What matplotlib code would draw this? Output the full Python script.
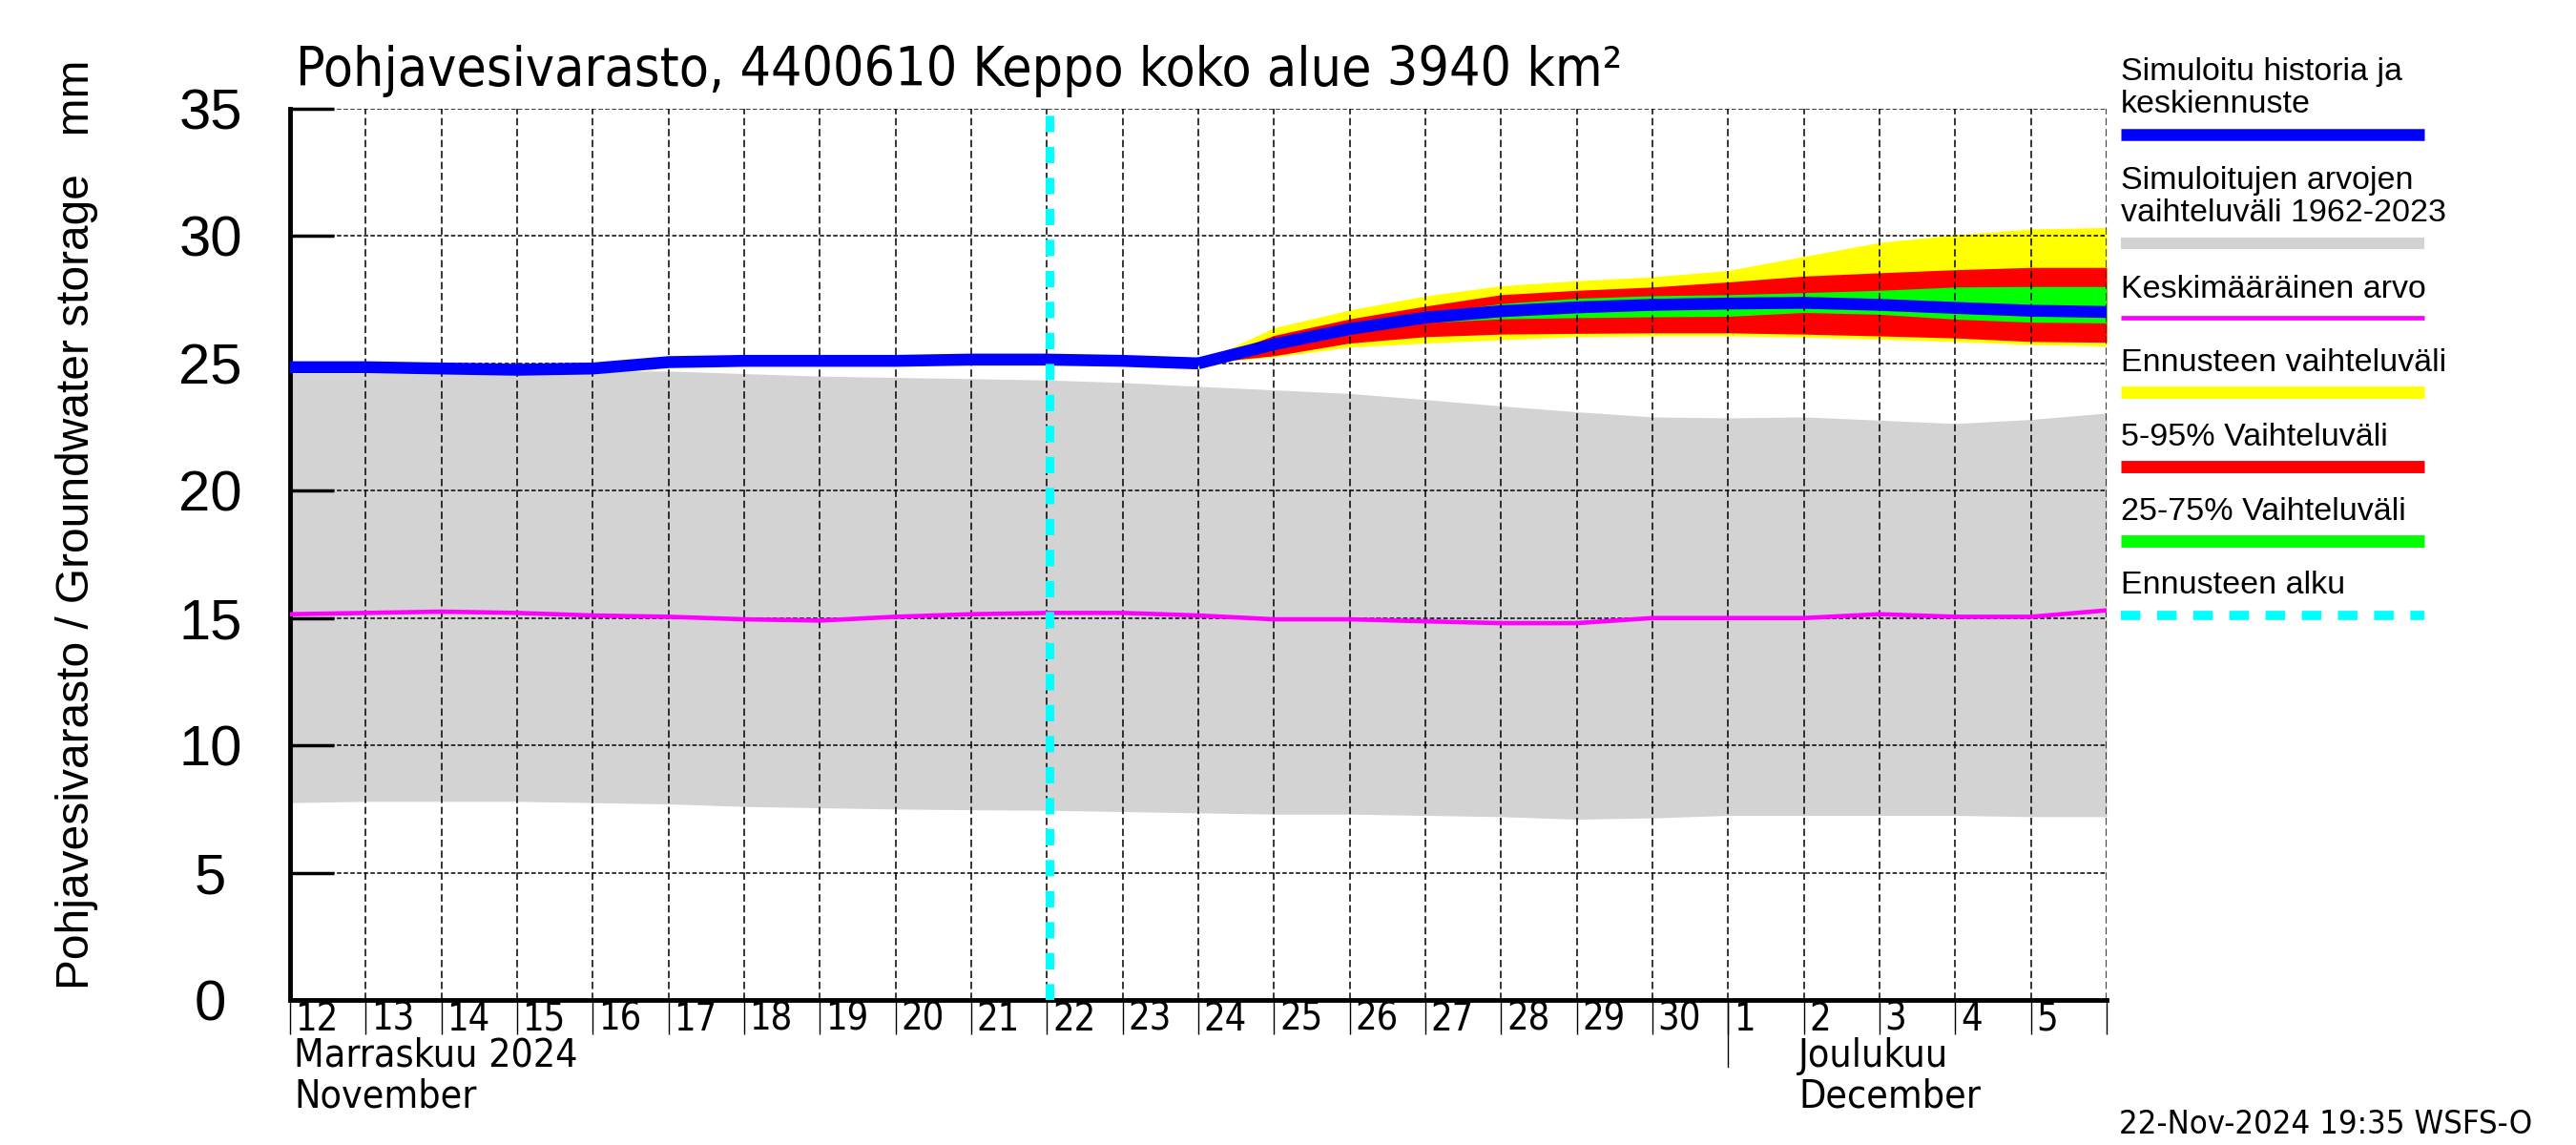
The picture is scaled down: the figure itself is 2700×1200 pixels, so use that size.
import numpy as np
from matplotlib import pyplot as plt
from matplotlib import font_manager
from matplotlib.lines import Line2D

# days from 12 Nov 2024 (0) to 6 Dec 2024 (24)
days = np.arange(25)
day_labels = ['12', '13', '14', '15', '16', '17', '18', '19', '20', '21', '22',
              '23', '24', '25', '26', '27', '28', '29', '30', '1', '2', '3', '4', '5']

# simulated history (Nov 12 .. Nov 24)
hist = [24.85, 24.85, 24.8, 24.75, 24.8, 25.05, 25.1, 25.1, 25.1, 25.15, 25.15, 25.1, 25.0]

# forecast (Nov 24 .. Dec 6)
median = [25.0, 25.75, 26.35, 26.8, 27.05, 27.2, 27.3, 27.35, 27.38, 27.3, 27.18, 27.07, 27.02]
yellow_hi = [25.0, 26.4, 27.1, 27.65, 28.05, 28.25, 28.4, 28.65, 29.2, 29.75, 30.05, 30.28, 30.34]
red_hi = [25.0, 26.1, 26.75, 27.25, 27.7, 27.87, 28.0, 28.2, 28.43, 28.56, 28.68, 28.77, 28.77]
green_hi = [25.0, 25.85, 26.45, 26.95, 27.35, 27.56, 27.66, 27.7, 27.78, 27.87, 28.0, 28.02, 28.02]
green_lo = [25.0, 25.6, 26.2, 26.6, 26.75, 26.8, 26.83, 26.85, 27.0, 26.93, 26.74, 26.62, 26.59]
red_lo = [25.0, 25.3, 25.8, 26.05, 26.15, 26.18, 26.2, 26.2, 26.15, 26.08, 26.0, 25.86, 25.83]
yellow_lo = [25.0, 25.25, 25.64, 25.8, 25.93, 26.05, 26.08, 26.08, 26.03, 25.95, 25.86, 25.74, 25.68]

# range of simulated values 1962-2023 and mean
range_hi = [24.6, 24.6, 24.6, 24.6, 24.7, 24.7, 24.6, 24.5, 24.45, 24.4, 24.35, 24.25, 24.1,
            23.96, 23.82, 23.58, 23.33, 23.1, 22.9, 22.86, 22.9, 22.77, 22.64, 22.8, 23.05]
range_lo = [7.75, 7.8, 7.8, 7.8, 7.75, 7.7, 7.6, 7.55, 7.5, 7.47, 7.45, 7.4, 7.35,
            7.3, 7.3, 7.25, 7.2, 7.1, 7.15, 7.25, 7.25, 7.25, 7.25, 7.2, 7.2]
mean = [15.15, 15.2, 15.25, 15.2, 15.1, 15.05, 14.95, 14.9, 15.05, 15.15, 15.2, 15.2, 15.1,
        14.95, 14.95, 14.87, 14.8, 14.8, 15.0, 15.0, 15.0, 15.15, 15.05, 15.05, 15.3]

forecast_start = 10.03

# narrow font for title and date labels, if one is installed
fonts = font_manager.fontManager.ttflist
names = {f.name for f in fonts}
wide = 'Liberation Sans'
narrow, nstretch, nscale = wide, 'normal', 0.86
if 'Liberation Sans Narrow' in names:
    narrow, nstretch, nscale = 'Liberation Sans Narrow', 'normal', 1.0
else:
    cond = [f for f in fonts if f.name in ('DejaVu Sans', 'Roboto', 'Open Sans', 'Noto Sans')
            and f.stretch in ('condensed', 'semi-condensed', 'extra-condensed')
            and f.style == 'normal']
    if cond:
        narrow, nstretch, nscale = cond[0].name, cond[0].stretch, 0.92

def ntext(obj, *args, size=30, **kw):
    return obj.text(*args, fontsize=size * nscale, family=narrow, stretch=nstretch, **kw)

W, H = 2700, 1200
fig = plt.figure(figsize=(27, 12), dpi=100)
ax = fig.add_axes([304 / W, 1 - 1048 / H, (2208 - 304) / W, (1048 - 114) / H])

ax.fill_between(days, range_lo, range_hi, color='#d3d3d3', lw=0, zorder=1)
fx = days[12:]
ax.fill_between(fx, yellow_lo, yellow_hi, color='#ffff00', lw=0, zorder=1.1)
ax.fill_between(fx, red_lo, red_hi, color='#ff0000', lw=0, zorder=1.2)
ax.fill_between(fx, green_lo, green_hi, color='#00ff00', lw=0, zorder=1.3)
ax.plot(days, mean, color='#ff00ff', lw=3.3, zorder=3)
ax.plot(days[:13], hist, color='#0000ff', lw=9, zorder=3, solid_capstyle='butt')
ax.plot(fx, median, color='#0000ff', lw=9, zorder=3, solid_capstyle='butt')
ax.axvline(forecast_start, color='#00ffff', lw=6.5, linestyle=(0, (1.9, 1.7)), zorder=4)

ax.set_xlim(0, 24)
ax.set_ylim(0, 35)
ax.set_yticks(range(0, 36, 5))
ax.set_xticks(days)
ax.set_axisbelow(False)
ax.grid(True, axis='x', color='black', lw=1.1, linestyle=(0, (5, 2.5)))
ax.grid(True, axis='y', color='black', lw=1.1, linestyle=(0, (3, 1.6)))
for s in ['top', 'right']:
    ax.spines[s].set_visible(False)
for s in ['left', 'bottom']:
    ax.spines[s].set_linewidth(3.5)
ax.tick_params(axis='y', direction='in', length=33, width=2.5, labelsize=43, pad=60)
for lab in ax.get_yticklabels():
    lab.set_family(wide)
    lab.set_horizontalalignment('center')
ax.tick_params(axis='x', direction='out', length=26, width=1, labelbottom=False)

xt = ax.get_xaxis_transform()
for i, lab in enumerate(day_labels):
    ntext(ax, i + 0.07, -0.022, lab, size=31, transform=xt, ha='left', va='center')
ax.plot([19, 19], [0, -0.075], transform=xt, color='black', lw=1, clip_on=False)
ntext(ax, 0.05, -0.063, 'Marraskuu 2024', size=32, transform=xt, ha='left', va='center')
ntext(ax, 0.05, -0.109, 'November', size=32, transform=xt, ha='left', va='center')
ntext(ax, 19.93, -0.063, 'Joulukuu', size=32, transform=xt, ha='left', va='center')
ntext(ax, 19.93, -0.109, 'December', size=32, transform=xt, ha='left', va='center')

ntext(fig, 310 / W, 1 - 90 / H, 'Pohjavesivarasto, 4400610 Keppo koko alue 3940 km²',
      size=44.5, ha='left', va='baseline')
fig.text(81 / W, 1 - 550 / H, 'Pohjavesivarasto / Groundwater storage   mm',
         rotation=90, ha='center', va='center', fontsize=34.5, family=wide)
ntext(fig, 2221 / W, 1 - 1178 / H, '22-Nov-2024 19:35 WSFS-O', size=27,
      ha='left', va='center')

# legend
lx0, lx1 = 2223 / W, 2541 / W
legend_items = [
    (['Simuloitu historia ja', 'keskiennuste'], [84, 118], 141, '#0000ff', 9, '-'),
    (['Simuloitujen arvojen', 'vaihteluväli 1962-2023'], [198, 232], 255, '#d3d3d3', 8.8, '-'),
    (['Keskimääräinen arvo'], [312], 333, '#ff00ff', 3.4, '-'),
    (['Ennusteen vaihteluväli'], [389], 411, '#ffff00', 9.3, '-'),
    (['5-95% Vaihteluväli'], [467], 489, '#ff0000', 9.3, '-'),
    (['25-75% Vaihteluväli'], [545], 567, '#00ff00', 9.3, '-'),
    (['Ennusteen alku'], [622], 645, '#00ffff', 7, (0, (2.1, 1.8))),
]
for texts, ys, ly, col, lw, ls in legend_items:
    for t, y in zip(texts, ys):
        fig.text(lx0, 1 - y / H, t, ha='left', va='baseline', fontsize=24.5, family=wide)
    fig.add_artist(Line2D([lx0, lx1], [1 - ly / H] * 2, color=col, lw=lw, linestyle=ls,
                          solid_capstyle='butt'))

fig.savefig('out.png', dpi=100)
